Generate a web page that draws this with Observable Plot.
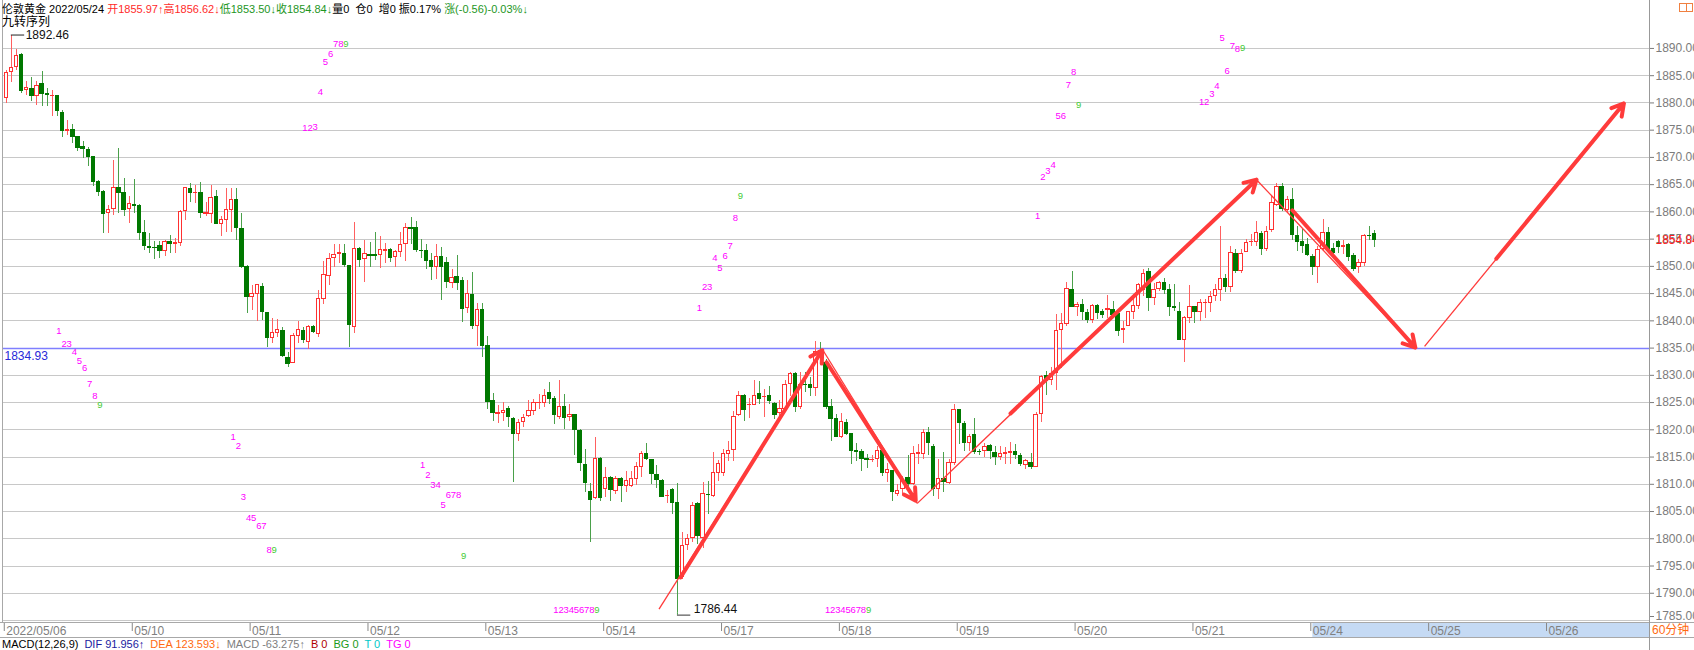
<!DOCTYPE html>
<html><head><meta charset="utf-8">
<script src="https://cdn.jsdelivr.net/npm/d3@7"></script>
<script src="https://cdn.jsdelivr.net/npm/@observablehq/plot@0.6"></script>
<style>
body{margin:0;background:#fff;}
#wrap{position:relative;width:1694px;height:650px;overflow:hidden;font-family:Arial,"Liberation Sans","Noto Sans CJK SC",sans-serif;font-size:12px;color:#000;}
.abs{position:absolute;white-space:pre;}
#main{position:absolute;left:0;top:0;}
#band{position:absolute;left:0;top:622px;width:1694px;height:14px;border-top:1px solid #a8a8a8;border-bottom:1px solid #a8a8a8;}
</style></head><body>
<div id="wrap">
  <div id="main"></div>
  <div id="band"></div>
</div>
<script>
// ---- data (60-minute London gold candles) ----
const opens = [
1880.9,1885.7,1886.6,1888.8,1882.3,1882.5,1881.2,1883.4,1881.7,1881.2,
1881.2,1878.1,1874.8,1875.0,1873.8,1871.9,1871.3,1870.0,1865.4,1863.7,
1859.8,1860.6,1864.3,1863.4,1860.6,1861.2,1861.1,1856.2,1853.6,1853.4,
1853.8,1852.9,1854.5,1854.2,1854.2,1860.2,1864.2,1863.4,1863.5,1859.7,
1859.6,1862.8,1857.7,1858.5,1860.3,1862.2,1856.9,1849.8,1844.4,1844.9,
1846.3,1841.4,1836.9,1837.8,1838.2,1833.1,1832.2,1837.3,1838.2,1836.2,
1838.8,1837.6,1844.0,1848.3,1851.6,1852.3,1852.3,1850.0,1838.9,1853.1,
1851.4,1852.1,1852.0,1852.0,1852.9,1853.0,1851.8,1852.6,1854.1,1857.0,
1857.0,1852.9,1852.9,1850.9,1849.8,1851.7,1850.6,1847.0,1848.0,1847.4,
1842.4,1844.8,1839.1,1842.0,1835.3,1825.2,1823.0,1823.1,1823.9,1822.0,
1819.2,1821.4,1822.5,1823.5,1824.9,1824.9,1826.7,1825.7,1822.4,1824.1,
1822.4,1822.8,1819.8,1813.5,1808.5,1807.5,1814.6,1809.2,1811.1,1808.8,
1810.9,1809.7,1809.7,1811.0,1813.2,1815.5,1814.4,1811.7,1810.6,1807.8,
1808.9,1806.6,1792.9,1798.8,1800.2,1806.3,1800.2,1808.1,1807.8,1812.1,
1812.1,1815.6,1816.3,1822.8,1826.2,1824.5,1824.5,1826.5,1826.0,1826.2,
1824.7,1823.1,1823.9,1828.5,1830.2,1824.1,1828.3,1828.3,1827.6,1834.5,
1832.3,1824.1,1821.9,1818.7,1821.2,1819.2,1816.2,1815.9,1814.6,1814.4,
1814.6,1816.1,1812.0,1812.4,1808.3,1809.2,1811.2,1810.0,1815.6,1815.5,
1819.4,1816.9,1809.1,1811.0,1810.3,1814.0,1823.6,1821.0,1817.5,1819.0,
1816.0,1816.1,1817.1,1815.8,1815.1,1815.6,1815.7,1815.9,1815.2,1813.5,
1813.9,1813.1,1822.9,1829.9,1829.1,1830.4,1838.3,1839.5,1845.7,1842.5,
1843.0,1841.4,1840.1,1842.8,1841.6,1842.0,1842.0,1841.3,1838.3,1839.0,
1841.6,1842.8,1845.7,1848.9,1844.2,1845.8,1846.9,1845.6,1842.5,1841.7,
1836.4,1840.5,1842.5,1841.6,1843.2,1843.3,1844.6,1845.6,1847.6,1846.2,
1852.3,1849.1,1852.6,1854.4,1854.4,1856.0,1853.2,1856.6,1861.3,1864.5,
1860.3,1862.2,1855.5,1854.4,1853.9,1851.7,1849.9,1853.1,1856.2,1853.1,
1854.5,1853.6,1853.9,1851.9,1849.9,1850.7,1855.6,1855.97];
const highs = [
1886.0,1892.46,1889.8,1889.1,1883.9,1884.7,1883.9,1885.7,1882.7,1882.3,
1881.4,1878.7,1876.8,1876.0,1873.8,1872.9,1871.9,1870.0,1865.8,1864.0,
1861.2,1869.5,1871.6,1866.1,1862.8,1865.9,1861.3,1858.5,1856.0,1854.5,
1854.5,1854.8,1855.7,1855.1,1860.3,1864.5,1865.2,1864.9,1865.4,1861.8,
1864.9,1864.0,1859.1,1864.3,1864.3,1864.3,1859.7,1850.2,1846.5,1846.7,
1846.8,1841.6,1840.4,1840.2,1838.8,1834.1,1837.6,1839.9,1838.8,1839.1,
1839.1,1845.6,1850.9,1852.3,1854.1,1854.1,1854.1,1850.1,1858.0,1853.5,
1854.7,1854.4,1856.3,1855.5,1854.2,1853.2,1853.0,1856.3,1857.8,1858.9,
1858.2,1854.9,1854.1,1852.3,1854.1,1853.5,1851.7,1849.5,1852.0,1848.0,
1847.4,1848.9,1843.1,1843.1,1837.1,1826.6,1824.4,1825.1,1824.2,1822.2,
1821.9,1822.8,1825.3,1825.6,1826.5,1827.4,1828.7,1826.2,1829.0,1826.5,
1824.7,1822.8,1820.1,1816.4,1810.2,1818.6,1814.9,1813.0,1811.5,1811.5,
1811.2,1812.3,1812.4,1814.0,1816.1,1817.5,1814.6,1813.4,1810.9,1808.8,
1809.2,1810.2,1801.1,1800.8,1806.7,1806.7,1810.3,1810.6,1815.8,1814.3,
1816.3,1817.9,1823.3,1827.1,1826.5,1825.7,1829.1,1828.8,1827.4,1828.0,
1825.0,1825.3,1829.0,1830.5,1830.5,1830.5,1830.5,1829.6,1836.3,1836.1,
1832.9,1825.6,1822.8,1823.0,1821.9,1819.2,1817.5,1816.4,1815.5,1815.3,
1817.0,1816.4,1813.8,1812.6,1810.0,1811.5,1815.2,1817.0,1817.3,1820.1,
1820.4,1817.3,1814.6,1815.8,1814.6,1824.7,1823.8,1821.6,1819.2,1822.0,
1816.4,1817.5,1817.3,1816.9,1817.0,1816.7,1817.6,1817.3,1815.7,1814.6,
1815.7,1823.1,1829.9,1830.7,1831.5,1841.1,1841.4,1847.0,1849.1,1843.3,
1843.9,1842.0,1843.0,1843.0,1842.0,1844.6,1843.6,1842.0,1839.9,1841.7,
1844.5,1846.8,1849.5,1849.7,1846.8,1847.3,1847.7,1846.6,1846.6,1843.3,
1840.8,1846.5,1842.7,1843.9,1843.9,1845.4,1846.6,1857.4,1848.5,1853.6,
1853.1,1853.1,1854.9,1855.8,1858.3,1856.4,1857.4,1863.1,1865.2,1865.2,
1862.8,1864.3,1857.3,1856.7,1855.1,1852.1,1853.6,1858.6,1857.2,1854.2,
1854.8,1854.8,1854.2,1852.4,1851.2,1855.9,1857.3,1856.62];
const lows = [
1879.9,1883.8,1886.0,1881.7,1881.4,1880.2,1879.6,1879.4,1879.4,1877.5,
1877.5,1873.7,1874.1,1872.6,1871.0,1869.8,1868.3,1864.6,1862.8,1856.0,
1856.0,1859.4,1859.7,1859.1,1857.9,1859.7,1854.8,1853.0,1852.4,1851.3,
1851.4,1851.9,1852.4,1852.4,1853.7,1858.5,1861.8,1861.5,1858.8,1859.1,
1857.9,1857.6,1855.5,1856.3,1856.3,1854.8,1849.6,1841.3,1841.9,1839.8,
1840.0,1835.2,1835.8,1837.0,1833.2,1831.5,1832.1,1835.9,1835.8,1834.8,
1837.6,1837.0,1843.0,1846.5,1849.8,1850.5,1849.8,1835.2,1837.6,1849.8,
1847.1,1849.8,1851.0,1849.7,1850.5,1850.8,1849.8,1851.6,1850.9,1854.1,
1852.6,1851.4,1849.5,1847.4,1847.5,1843.7,1845.9,1845.9,1845.6,1839.7,
1841.3,1838.5,1835.3,1833.3,1823.8,1821.5,1821.1,1821.5,1820.5,1810.4,
1817.9,1820.4,1822.2,1822.7,1823.8,1824.1,1824.7,1821.0,1821.9,1820.1,
1821.6,1815.3,1812.4,1808.5,1799.4,1807.2,1806.9,1807.5,1806.9,1808.2,
1806.6,1808.5,1809.4,1809.7,1811.2,1814.3,1810.0,1809.2,1807.5,1806.5,
1804.5,1786.44,1792.5,1797.9,1799.3,1799.0,1798.2,1804.5,1807.6,1810.6,
1811.5,1814.1,1814.1,1822.5,1821.6,1822.0,1824.4,1824.7,1822.2,1824.7,
1821.9,1822.5,1823.5,1826.2,1823.1,1823.8,1826.8,1826.2,1826.2,1833.5,
1823.8,1817.9,1818.6,1818.4,1818.9,1813.7,1814.1,1812.4,1812.9,1814.0,
1813.0,1811.5,1810.3,1806.9,1807.7,1808.2,1809.1,1809.7,1813.7,1814.6,
1815.2,1807.8,1807.2,1808.5,1810.0,1813.4,1817.3,1816.1,1816.1,1815.5,
1815.2,1814.9,1814.6,1813.5,1814.3,1813.7,1813.7,1814.6,1813.2,1812.8,
1812.8,1813.0,1821.4,1826.3,1828.1,1827.2,1831.2,1839.0,1842.4,1840.8,
1840.1,1839.5,1839.5,1840.3,1840.5,1840.5,1840.5,1837.2,1835.9,1838.9,
1840.2,1842.0,1844.5,1841.7,1842.8,1845.4,1844.8,1840.8,1841.7,1836.4,
1832.4,1839.5,1839.6,1839.9,1840.5,1841.6,1843.6,1843.6,1845.2,1845.2,
1848.7,1848.7,1852.5,1853.6,1853.6,1852.0,1852.8,1856.2,1861.0,1860.0,
1859.7,1854.8,1852.7,1852.4,1851.8,1848.4,1846.9,1852.7,1852.7,1851.8,
1852.4,1852.1,1850.9,1849.0,1848.7,1849.9,1854.8,1853.50];
const closes = [
1885.5,1886.5,1888.7,1882.2,1882.7,1881.2,1883.1,1881.6,1881.5,1881.3,
1878.5,1874.8,1875.1,1873.8,1871.8,1871.5,1870.0,1865.4,1863.7,1859.6,
1860.3,1864.4,1863.4,1860.4,1861.4,1861.1,1856.2,1853.7,1853.4,1853.3,
1852.9,1854.5,1854.1,1854.3,1860.0,1864.3,1863.4,1863.5,1859.8,1859.8,
1862.6,1857.7,1858.5,1860.4,1862.2,1857.1,1849.9,1844.4,1844.9,1846.5,
1841.6,1836.9,1837.7,1838.3,1833.6,1832.1,1837.3,1838.3,1836.5,1838.8,
1838.0,1844.0,1848.4,1851.4,1852.1,1852.4,1850.3,1839.3,1853.1,1851.1,
1852.3,1852.0,1851.9,1853.0,1853.0,1851.6,1852.6,1854.0,1857.0,1856.9,
1853.0,1852.8,1850.9,1849.8,1851.8,1849.8,1847.1,1847.9,1847.0,1842.2,
1844.9,1839.0,1842.0,1835.3,1825.1,1823.0,1823.1,1823.5,1822.3,1819.2,
1821.3,1822.2,1823.5,1824.9,1825.0,1826.2,1825.7,1822.7,1824.2,1822.2,
1822.8,1820.0,1814.0,1810.2,1807.1,1814.6,1807.4,1811.1,1808.9,1810.9,
1809.7,1810.6,1811.0,1813.2,1815.6,1814.7,1811.8,1810.8,1807.7,1807.9,
1806.6,1792.7,1798.7,1800.0,1806.0,1800.5,1808.2,1808.0,1812.1,1813.7,
1815.6,1816.1,1822.4,1826.2,1823.6,1824.6,1826.2,1825.6,1826.1,1825.2,
1822.8,1823.9,1828.3,1830.2,1824.1,1828.3,1828.2,1827.6,1834.3,1834.2,
1824.1,1822.0,1818.7,1821.4,1819.2,1816.2,1815.9,1814.7,1814.5,1814.5,
1816.1,1812.1,1812.6,1808.6,1808.8,1810.6,1810.0,1815.5,1815.7,1819.4,
1817.5,1809.1,1811.0,1810.4,1814.0,1823.6,1821.2,1817.5,1818.7,1815.9,
1815.9,1816.9,1816.1,1815.1,1815.5,1815.7,1815.9,1815.4,1813.8,1814.2,
1813.1,1822.8,1829.7,1828.9,1830.3,1838.1,1839.4,1845.8,1842.5,1843.0,
1841.6,1840.1,1842.7,1841.4,1841.1,1842.1,1841.0,1838.1,1838.5,1841.6,
1842.7,1846.6,1848.6,1844.2,1845.6,1846.9,1845.6,1842.5,1842.3,1836.5,
1840.6,1842.5,1841.6,1843.2,1843.3,1844.4,1845.6,1847.7,1846.3,1852.5,
1849.1,1852.3,1854.3,1854.5,1856.2,1853.2,1856.4,1861.6,1864.5,1860.5,
1862.2,1855.8,1854.5,1853.7,1852.1,1849.9,1853.0,1856.1,1853.1,1852.5,
1853.5,1853.7,1851.8,1849.6,1850.7,1855.6,1855.5,1854.84];

const dayLabels = ["2022/05/06","05/10","05/11","05/12","05/13","05/14","05/17","05/18","05/19","05/20","05/21","05/24","05/25","05/26"];
const dayStart  = [0,25,48,71,94,117,140,163,186,209,232,255,278,301];
const yTicks = [1785,1790,1795,1800,1805,1810,1815,1820,1825,1830,1835,1840,1845,1850,1855,1860,1865,1870,1875,1880,1885,1890];
const refLevel = 1834.93;
const lastPrice = 1854.84;
const peakIndex = 1, peakValue = 1892.46;
const troughIndex = 131, troughValue = 1786.44;

// TD "九转" counts: start bar of each 1..9 run, and where each digit sits
const seqStart = [10, 44, 58, 81, 107, 135, 160, 201, 233];
const seqVals = [
  [1838.1,1835.7,1835.7,1834.2,1832.7,1831.4,1828.4,1826.2,1824.5],
  [1818.7,1817.1,1807.6,1803.8,1803.8,1802.4,1802.4,1798.0,1798.0],
  [1875.4,1875.4,1875.6,1882.0,1887.5,1889.0,1890.9,1890.9,1890.9],
  [1813.6,1811.8,1809.8,1809.8,1806.2,1808.1,1808.1,1808.1,1796.9],
  [1787.0,1787.0,1787.0,1787.0,1787.0,1787.0,1787.0,1787.0,1787.0],
  [1842.3,1846.3,1846.3,1851.5,1849.8,1852.0,1853.8,1858.8,1862.9],
  [1787.0,1787.0,1787.0,1787.0,1787.0,1787.0,1787.0,1787.0,1787.0],
  [1859.2,1866.5,1867.5,1868.7,1877.6,1877.6,1883.3,1885.7,1879.6],
  [1880.2,1880.2,1881.6,1883.1,1891.9,1885.9,1890.5,1889.9,1890.1]
];

// hand-drawn trend lines (bar index, price)
const thinFrom = [[127.4,1787.1],[159.4,1834.6],[177.8,1806.5],[244.0,1865.9],[276.8,1835.3]];
const thinTo   = [[159.3,1834.6],[177.8,1806.5],[244.0,1865.9],[275.0,1835.1],[315.7,1879.9]];
const arrowFrom= [[131.6,1792.9],[160.1,1832.4],[196.0,1823.0],[251.0,1860.3],[290.8,1851.4]];
const arrowTo  = [[159.25,1834.6],[177.5,1807.0],[244.0,1865.9],[275.0,1835.1],[315.7,1879.9]];

// ---- build ----
const W = 1694, PLOT_H = 623;
const xDomain = [-0.53, 320.7];
const yDomain = [1784.45, 1898.8];
const UP = "#ff3030", UPW = "#ff6060", DN = "#007800", DNW = "#4aa04a";

const bars = opens.map((o, i) => ({i, o, h: highs[i], l: lows[i], c: closes[i], up: closes[i] >= o}));
const bodyTop = d => { const a = Math.max(d.o, d.c), b = Math.min(d.o, d.c); return a - b < 0.12 ? (a + b) / 2 + 0.06 : a; };
const bodyBot = d => { const a = Math.max(d.o, d.c), b = Math.min(d.o, d.c); return a - b < 0.12 ? (a + b) / 2 - 0.06 : b; };

const digits = [];
seqStart.forEach((s, g) => seqVals[g].forEach((v, k) => digits.push({i: s + k, v, t: String(k + 1), nine: k === 8})));

const thin = thinFrom.map((p, k) => ({x1: p[0], y1: p[1], x2: thinTo[k][0], y2: thinTo[k][1]}));
const thick = arrowFrom.map((p, k) => ({x1: p[0], y1: p[1], x2: arrowTo[k][0], y2: arrowTo[k][1]}));

const font = "Arial, 'Liberation Sans', sans-serif";
const lowTick = yTicks[0];

const main = Plot.plot({
  width: W, height: PLOT_H,
  marginLeft: 3, marginRight: 45, marginTop: 0, marginBottom: 0,
  x: {type: "linear", domain: xDomain, axis: null},
  y: {type: "linear", domain: yDomain, axis: null},
  style: {fontFamily: font, fontSize: "12px", background: "transparent", overflow: "visible"},
  marks: [
    Plot.gridY(yTicks, {stroke: "#c8c8c8", strokeOpacity: 1, shapeRendering: "crispEdges"}),
    Plot.axisY(yTicks.filter(t => t !== lowTick), {anchor: "right", tickFormat: d => d.toFixed(2), tickSize: 4, tickPadding: 2, color: "#7c7c7c", fontSize: 12, fontFamily: font}),
    Plot.axisY([lowTick], {anchor: "right", tickFormat: d => d.toFixed(2), tickSize: 4, tickPadding: 2, color: "#7c7c7c", fontSize: 12, fontFamily: font, dy: -4}),
    Plot.ruleY([refLevel], {stroke: "#7f7fff", strokeWidth: 1.5}),
    Plot.text([refLevel], {y: d => d, x: xDomain[0], text: d => d.toFixed(2), textAnchor: "start", dy: 8, dx: 1, fill: "#2828d8", fontSize: 12}),
    Plot.text([lastPrice], {y: d => d, x: xDomain[1], text: d => d.toFixed(2), textAnchor: "start", dx: 6, fill: "#ff2020", fontSize: 12}),
    // candles
    Plot.ruleX(bars, {x: "i", y1: "l", y2: "h", stroke: d => d.up ? UPW : DNW, strokeWidth: 1, shapeRendering: "crispEdges"}),
    Plot.rect(bars, {x1: d => d.i - 0.33, x2: d => d.i + 0.33, y1: bodyBot, y2: bodyTop,
      fill: d => d.up ? "#ffffff" : DN, stroke: d => d.up ? UP : DN, strokeWidth: 1, shapeRendering: "crispEdges"}),
    // peak / trough markers
    Plot.ruleY([peakValue], {x1: peakIndex, x2: peakIndex + 2.6, stroke: "#222"}),
    Plot.text([peakValue], {x: peakIndex + 2.6, y: d => d, text: d => d.toFixed(2), textAnchor: "start", dx: 1, fill: "#111", fontSize: 12}),
    Plot.ruleX([troughIndex], {y1: troughValue, y2: troughValue - 0.45, stroke: DNW}),
    Plot.ruleY([troughValue - 0.45], {x1: troughIndex, x2: troughIndex + 2.6, stroke: "#333"}),
    Plot.text([troughValue], {x: troughIndex + 2.6, y: troughValue - 0.45, text: d => d.toFixed(2), textAnchor: "start", dx: 3, dy: -6, fill: "#111", fontSize: 12}),
    // TD counts
    Plot.text(digits, {x: "i", y: "v", text: "t", dx: 1.5, fill: d => d.nine ? "#44cc33" : "#ff00ff", fontSize: 9.5}),
    // trend lines and arrows
    Plot.link(thin, {x1: "x1", y1: "y1", x2: "x2", y2: "y2", stroke: "#ff3b3b", strokeWidth: 1.3}),
    Plot.arrow(thick, {x1: "x1", y1: "y1", x2: "x2", y2: "y2", stroke: "#ff3b3b", strokeWidth: 4, headLength: 5, headAngle: 60})
  ]
});
document.getElementById("main").appendChild(main);

const hiStart = dayStart[dayLabels.indexOf("05/24")];
const band = Plot.plot({
  width: W, height: 14,
  marginLeft: 3, marginRight: 45, marginTop: 0, marginBottom: 0,
  x: {type: "linear", domain: xDomain, axis: null},
  style: {fontFamily: font, fontSize: "12px", background: "transparent", overflow: "visible"},
  marks: [
    Plot.rect([0], {x1: hiStart, x2: xDomain[1], fill: "#c5daf4"}),
    Plot.ruleX(dayStart, {x: (d, k) => k === 0 ? xDomain[0] + 0.15 : d - 0.4, stroke: "#888", insetBottom: 6}),
    Plot.text(dayLabels, {x: (d, k) => k === 0 ? xDomain[0] + 0.15 : dayStart[k] - 0.4, text: d => d, textAnchor: "start", dx: 2, dy: 1, fill: "#808080", fontSize: 12})
  ]
});
document.getElementById("band").appendChild(band);

// ---- HTML overlays: header, frame, status bar ----
const wrap = document.getElementById("wrap");
function add(html, css) { const d = document.createElement("div"); d.className = "abs"; d.style.cssText = css; d.innerHTML = html; wrap.appendChild(d); return d; }
add("", "left:2px;top:0;width:1px;height:622px;background:#a8a8a8;");
add("", "left:1649px;top:0;width:1px;height:650px;background:#999;");
add("", "left:1650px;top:623px;width:44px;height:14px;background:#fff;");
add("60分钟", "left:1652px;top:623px;line-height:15px;color:#ff6a10;font-size:12px;");
add("", "left:1679px;top:3px;width:6px;height:7px;border:1px solid #f08040;");
add("", "left:1686px;top:3px;width:5px;height:7px;border:1px solid #f08040;");

const headerParts = [
  ["伦敦黄金 2022/05/24 ", "#000"],
  ["开1855.97↑高1856.62↓", "#ff2a2a"],
  ["低1853.50↓收1854.84↓", "#1e961e"],
  ["量0&nbsp; 仓0&nbsp; 增0 振0.17% ", "#000"],
  ["涨(-0.56)-0.03%↓", "#1e961e"]
];
add(headerParts.map(([t, c]) => `<span style="color:${c}">${t}</span>`).join(""),
    "left:2px;top:1px;line-height:16px;font-size:11px;");
add("九转序列", "left:2px;top:14px;line-height:16px;color:#000;font-size:12px;");

const macdParts = [
  ["MACD(12,26,9)", "#000"], ["DIF 91.956↑", "#1a1aa0"], ["DEA 123.593↓", "#ff6a10"],
  ["MACD -63.275↑", "#808080"], ["B 0", "#b00000"], ["BG 0", "#1a9a1a"],
  ["T 0", "#00c8c8"], ["TG 0", "#ff00ff"]
];
add(macdParts.map(([t, c]) => `<span style="color:${c};margin-right:6px">${t}</span>`).join(""),
    "left:2px;top:638px;line-height:13px;font-size:11px;");
</script>
</body></html>
